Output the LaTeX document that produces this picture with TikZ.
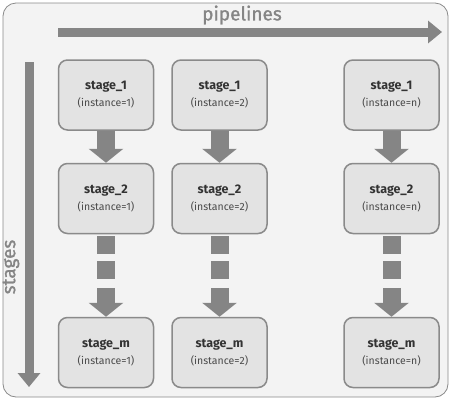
\documentclass[tikz,border=0pt]{standalone}
\usepackage{fontspec}
\setmainfont{Fira Sans}
\newfontfamily\lblfont[FakeBold=1.2]{Fira Sans}
\usetikzlibrary{arrows.meta}
\definecolor{arrowgray}{HTML}{858585}
\definecolor{boxfill}{HTML}{E3E3E3}
\definecolor{boxline}{HTML}{8A8A8A}
\definecolor{bgfill}{HTML}{F3F3F3}
\definecolor{txtdark}{HTML}{333333}
\definecolor{txtlight}{HTML}{4A4A4A}
\tikzset{
  stagebox/.style={draw=boxline, line width=1.5pt, fill=boxfill, rounded corners=9pt,
    minimum width=95pt, minimum height=70pt, align=center, inner sep=0pt},
  axisarrow/.style={draw=arrowgray, line width=9pt, -{Triangle[length=14pt,width=22pt]}},
  downarrow/.style={arrowgray, line width=18pt, -{Triangle[length=14pt,width=34pt]}},
  dashbar/.style={arrowgray, line width=18pt},
  lbl/.style={text=arrowgray, font=\lblfont\fontsize{19}{21}\selectfont}
}
\newcommand{\stagetext}[2]{{\fontsize{12.5}{14}\selectfont\bfseries\color{txtdark}#1}\\[5pt]{\fontsize{10.5}{12}\selectfont\color{txtlight}(instance=#2)}}
\begin{document}
\begin{tikzpicture}[x=1pt,y=-1pt]
\useasboundingbox (0,0) rectangle (450,400);
\node[draw=boxline, line width=0.8pt, fill=bgfill, rounded corners=13pt, minimum width=445pt, minimum height=394pt, inner sep=0pt] (frame) at (225.5,200) {};
% axes
\coordinate (ps) at (58,32);
\coordinate (pe) at (442,32);
\draw[axisarrow] (ps) -- (pe);
\node[lbl] (plabel) at (242,15) {pipelines};
\coordinate (ss) at (29,62);
\coordinate (se) at (29,387);
\draw[axisarrow] (ss) -- (se);
\node[lbl, rotate=90] (slabel) at (11,267) {stages};
% columns
\foreach \c/\x/\i in {a/106/1, b/219.5/2, c/391.5/n}{
  \node[stagebox] (\c1) at (\x,95) {\stagetext{stage\_1}{\i}};
  \node[stagebox] (\c2) at (\x,198.5) {\stagetext{stage\_2}{\i}};
  \node[stagebox] (\c3) at (\x,352.5) {\stagetext{stage\_m}{\i}};
  \draw[downarrow] (\c1.south) -- (\c2.north);
  \coordinate (\c d1) at ([yshift=-2pt]\c2.south);
  \coordinate (\c d2) at ([yshift=-20pt]\c2.south);
  \coordinate (\c d3) at ([yshift=-27pt]\c2.south);
  \coordinate (\c d4) at ([yshift=-45pt]\c2.south);
  \coordinate (\c d5) at ([yshift=29pt]\c3.north);
  \draw[dashbar] (\c d1) -- (\c d2);
  \draw[dashbar] (\c d3) -- (\c d4);
  \draw[downarrow] (\c d5) -- (\c3.north);
}
\end{tikzpicture}
\end{document}
